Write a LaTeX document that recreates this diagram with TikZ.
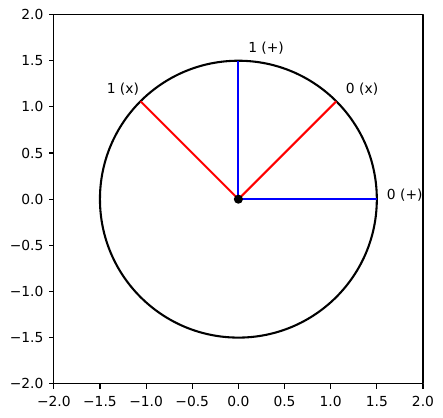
\documentclass[tikz,border=0pt]{standalone}
\usepackage{fontspec}
\setmainfont{DejaVu Sans}
\begin{document}
\begin{tikzpicture}[x=2.3444cm, y=2.3444cm, font=\fontsize{10}{12}\selectfont, line join=round,
	spine/.style={line width=0.8pt},
	tick/.style={line width=0.8pt},
	ray/.style={line width=1.5pt},
	lbl/.style={inner sep=0pt}]
	\useasboundingbox (-2.583,-2.371) rectangle (2.217,2.158);
	% Các điểm
	\path
	(0,0) coordinate (O)
	(0:1.5) coordinate (A)
	(45:1.5) coordinate (B)
	(90:1.5) coordinate (C)
	(135:1.5) coordinate (D);
	% Vòng tròn
	\draw[ray, black] (O) circle (1.5);
	% Các bán kính
	\draw[ray, blue] (O) -- (A);
	\draw[ray, blue] (O) -- (C);
	\draw[ray, red] (O) -- (B);
	\draw[ray, red] (O) -- (D);
	\fill (O) circle (3.3pt);
	% Nhãn
	\node[lbl, anchor=west] (lA) at (1.607,0.038) {0 (+)};
	\node[lbl, anchor=west] (lB) at (1.163,1.191) {0 (x)};
	\node[lbl, anchor=west] (lC) at (0.104,1.638) {1 (+)};
	\node[lbl, anchor=east] (lD) at (-1.074,1.191) {1 (x)};
	% Khung trục
	\draw[spine] (-2,-2) rectangle (2,2);
	\foreach \v/\t in {-2/−2.0, -1.5/−1.5, -1/−1.0, -0.5/−0.5, 0/0.0, 0.5/0.5, 1/1.0, 1.5/1.5, 2/2.0}{
		\draw[tick] (\v,-2) -- ++(0,-3.5pt);
		\node[lbl, anchor=base] at (\v,-2.246) {\t};
		\draw[tick] (-2,\v) -- ++(-3.5pt,0);
		\node[lbl, anchor=east] at (-2.11,\v) {\t};
	}
\end{tikzpicture}
\end{document}
